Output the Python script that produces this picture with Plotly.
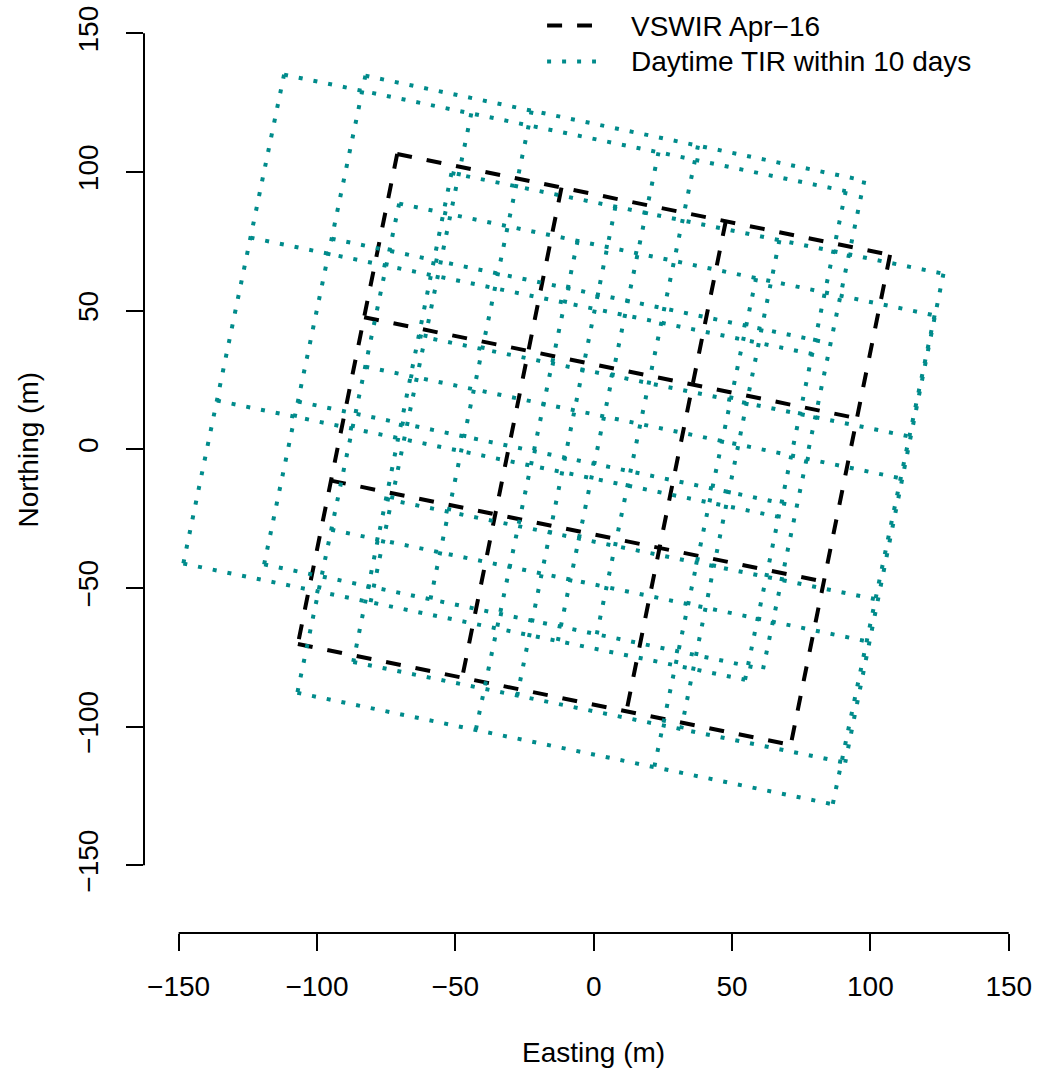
import plotly.graph_objects as go

# ---------------- data (footprint corners in metres: TL, TR, BR, BL) ----------------
vswir_x = [-71.0, 107.1, 71.2, -106.9]
vswir_y = [106.5, 70.1, -106.6, -70.2]

tir1_x = [-111.9, 91.1, 54.7, -148.3]
tir1_y = [135.1, 93.1, -83.1, -41.2]

tir2_x = [-82.5, 97.8, 61.2, -119.1]
tir2_y = [134.7, 96.9, -79.3, -41.5]

tir3_x = [-70.3, 123.2, 86.4, -107.1]
tir3_y = [88.6, 48.3, -128.0, -87.8]

tir4_x = [-51.4, 126.4, 90.9, -86.9]
tir4_y = [99.6, 63.3, -113.0, -76.7]

n_rows = 3
n_cols = 3

x_ticks = [-150, -100, -50, 0, 50, 100, 150]
y_ticks = [-150, -100, -50, 0, 50, 100, 150]
tick_text = ["\u2212150", "\u2212100", "\u221250", "0", "50", "100", "150"]

legend_labels = ["VSWIR Apr\u221216", "Daytime TIR within 10 days"]

# ---------------- helpers ----------------
def lerp(a, b, t):
    return (a[0] + (b[0] - a[0]) * t, a[1] + (b[1] - a[1]) * t)


def grid_lines(cx, cy, nr, nc):
    tl, tr, br, bl = [(cx[i], cy[i]) for i in range(4)]
    xs, ys = [], []
    for i in range(nc + 1):
        t = i / nc
        p, q = lerp(tl, tr, t), lerp(bl, br, t)
        xs += [p[0], q[0], None]
        ys += [p[1], q[1], None]
    for j in range(nr + 1):
        t = j / nr
        p, q = lerp(tl, bl, t), lerp(tr, br, t)
        xs += [p[0], q[0], None]
        ys += [p[1], q[1], None]
    return xs, ys


BLACK = "#000000"
TEAL = "#008B8B"
FONT = "Liberation Sans, Arial, Helvetica, sans-serif"
DASH = "15px,15px"
DOT = "4px,11px"

fig = go.Figure()

vx, vy = grid_lines(vswir_x, vswir_y, n_rows, n_cols)
fig.add_trace(go.Scatter(x=vx, y=vy, mode="lines", name=legend_labels[0],
                         line=dict(color=BLACK, width=4, dash=DASH),
                         showlegend=False, hoverinfo="skip"))

for k, (cx, cy) in enumerate([(tir1_x, tir1_y), (tir2_x, tir2_y),
                              (tir3_x, tir3_y), (tir4_x, tir4_y)]):
    tx, ty = grid_lines(cx, cy, n_rows, n_cols)
    fig.add_trace(go.Scatter(x=tx, y=ty, mode="lines", name=legend_labels[1],
                             line=dict(color=TEAL, width=4, dash=DOT),
                             showlegend=False, hoverinfo="skip"))

W, H = 1037, 1073
L, R, T, B = 144, 7, 5, 140
pw, ph = W - L - R, H - T - B
scale = 2.7733
x0_px, y0_px = 594.7, 449.3
x_range = [(L - x0_px) / scale, (W - R - x0_px) / scale]
y_range = [(y0_px - (H - B)) / scale, (y0_px - T) / scale]


def px_x(p):
    return (p - L) / pw


def px_y(p):
    return (H - B - p) / ph


shapes = [
    # axis lines spanning first to last tick (R style)
    dict(type="line", xref="x", yref="paper", x0=x_ticks[0], x1=x_ticks[-1], y0=0, y1=0,
         line=dict(color=BLACK, width=2)),
    dict(type="line", xref="paper", yref="y", x0=0, x1=0, y0=y_ticks[0], y1=y_ticks[-1],
         line=dict(color=BLACK, width=2)),
    # legend keys
    dict(type="line", xref="paper", yref="paper", x0=px_x(548), x1=px_x(593),
         y0=px_y(25.5), y1=px_y(25.5), line=dict(color=BLACK, width=4, dash=DASH)),
    dict(type="line", xref="paper", yref="paper", x0=px_x(548), x1=px_x(597),
         y0=px_y(61.5), y1=px_y(61.5), line=dict(color=TEAL, width=4, dash=DOT)),
]

annotations = [
    dict(text=legend_labels[0], xref="paper", yref="paper", x=px_x(630), y=px_y(26),
         xanchor="left", yanchor="middle", showarrow=False,
         font=dict(family=FONT, size=28, color=BLACK)),
    dict(text=legend_labels[1], xref="paper", yref="paper", x=px_x(630), y=px_y(62),
         xanchor="left", yanchor="middle", showarrow=False,
         font=dict(family=FONT, size=28, color=BLACK)),
    dict(text="Easting (m)", xref="x", yref="paper", x=0, y=px_y(1052),
         xanchor="center", yanchor="middle", showarrow=False,
         font=dict(family=FONT, size=28, color=BLACK)),
    dict(text="Northing (m)", xref="paper", yref="y", x=px_x(28), y=0,
         xanchor="center", yanchor="middle", showarrow=False, textangle=-90,
         font=dict(family=FONT, size=28, color=BLACK)),
]

fig.update_layout(
    width=W, height=H,
    margin=dict(l=L, r=R, t=T, b=B, pad=0),
    paper_bgcolor="white", plot_bgcolor="white",
    showlegend=False,
    shapes=shapes, annotations=annotations,
    font=dict(family=FONT, size=28, color=BLACK),
    xaxis=dict(range=x_range, showgrid=False, zeroline=False, showline=False,
               tickmode="array", tickvals=x_ticks, ticktext=tick_text,
               ticks="outside", ticklen=17, tickwidth=2, tickcolor=BLACK,
               ticklabelstandoff=11,
               tickfont=dict(family=FONT, size=28, color=BLACK), fixedrange=True),
    yaxis=dict(range=y_range, showgrid=False, zeroline=False, showline=False,
               tickmode="array", tickvals=y_ticks, ticktext=tick_text,
               ticks="outside", ticklen=17, tickwidth=2, tickcolor=BLACK,
               tickangle=-90, ticklabelstandoff=17,
               tickfont=dict(family=FONT, size=28, color=BLACK), fixedrange=True),
)

fig.write_html("out.html", config={"displayModeBar": False},
               post_script="document.body.style.margin='0px';")
